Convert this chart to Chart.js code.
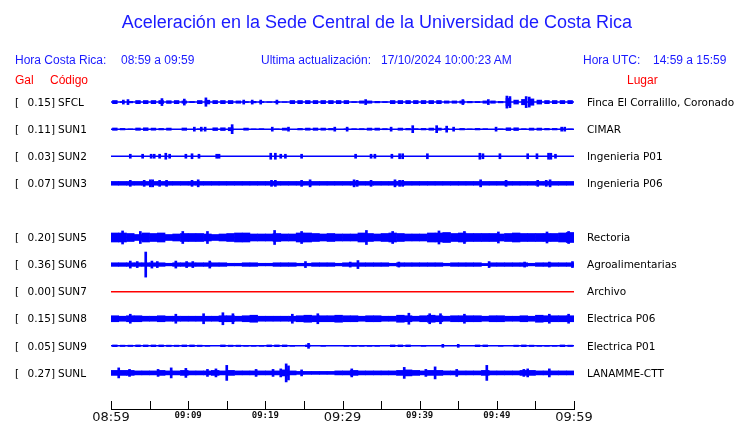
<!DOCTYPE html>
<html>
<head>
<meta charset="utf-8">
<script src="https://cdn.jsdelivr.net/npm/chart.js@4/dist/chart.umd.min.js"></script>
<style>
body { margin: 0; background: #fff; }
#wrap { position: relative; width: 740px; height: 423px; overflow: hidden; font-family: "Liberation Sans", Arial, sans-serif; }
#wrap canvas { position: absolute; left: 0; top: 0; }
.t { position: absolute; white-space: pre; line-height: 1; }
.blue { color: #1a1aff; }
.red { color: #ff0000; }
</style>
</head>
<body>
<div id="wrap">
  <canvas id="sismo" width="740" height="423"></canvas>
  <div class="t blue" style="left:0;width:754px;text-align:center;top:13px;font-size:18px">Aceleración en la Sede Central de la Universidad de Costa Rica</div>
  <div class="t blue" style="left:15px;top:54px;font-size:12px">Hora Costa Rica:</div>
  <div class="t blue" style="left:121px;top:54px;font-size:12px">08:59 a 09:59</div>
  <div class="t blue" style="left:261px;top:54px;font-size:12px">Ultima actualización:</div>
  <div class="t blue" style="left:381px;top:54px;font-size:12px">17/10/2024 10:00:23 AM</div>
  <div class="t blue" style="left:583px;top:54px;font-size:12px">Hora UTC:</div>
  <div class="t blue" style="left:653px;top:54px;font-size:12px">14:59 a 15:59</div>
  <div class="t red" style="left:15px;top:74px;font-size:12px">Gal</div>
  <div class="t red" style="left:50px;top:74px;font-size:12px">Código</div>
  <div class="t red" style="left:627px;top:74px;font-size:12px">Lugar</div>
</div>
<script>
// channel slots (the empty slot is the unused channel line)
const CODES = ["SFCL", "SUN1", "SUN2", "SUN3", "", "SUN5", "SUN6", "SUN7", "SUN8", "SUN9", "SUNL"];
const GAL = [0.15, 0.11, 0.03, 0.07, null, 0.20, 0.36, 0.00, 0.15, 0.05, 0.27];
const PLACES = ["Finca El Corralillo, Coronado", "CIMAR", "Ingenieria P01", "Ingenieria P06", "",
  "Rectoria", "Agroalimentarias", "Archivo", "Electrica P06", "Electrica P01", "LANAMME-CTT"];
const TIME_LABELS = ["08:59", "09:09", "09:19", "09:29", "09:39", "09:49", "09:59"];

// envelope (half amplitude) per minute, minutes 0..59
const ENV_SFCL = [1.9,0.8,1.1,1.9,1.9,1.9,1.9,1.7,1.9,1.5, 0.9,1.9,2.2,1.9,1.9,1.9,1.5,0.8,1.1,0.8,
  0.6,0.8,0.6,1.9,1.9,1.9,1.9,1.9,1.9,1.9, 1.9,0.8,1.5,1.5,1.1,0.8,1.9,1.9,1.9,1.9,
  1.9,1.9,1.9,1.5,1.5,1.5,1.1,0.9,1.5,1.5, 1.1,4,2.3,3,3.5,2.3,1.9,1.9,1.9,1.9];
const ENV_SUN1 = [1.5,1.1,0.6,1.5,1.7,1.4,1.1,1.4,0,1.5, 0,0.6,0,1.7,1.7,1.9,0,1.4,0.6,0.8,
  0,0.6,1.4,0,1.1,1.4,1.5,1.4,1.1,0, 0.6,0.8,0.9,1.4,1.4,0.9,0,1.4,1.1,0.8,
  1.1,1.4,1.4,0.8,0,1.1,0.6,1.1,0.8,0, 0.6,1.7,1.7,0.8,1.4,1.4,1.1,1.1,0.6,0.6];
const ENV_SUN3 = [1.9,1.9,1.9,1.9,1.9,1.9,1.9,1.9,1.9,1.9, 1.9,1.9,1.9,1.9,1.9,1.9,1.9,1.9,1.9,1.9,
  1.9,1.9,1.9,1.9,1.9,1.9,1.9,1.9,1.9,1.9, 1.9,1.9,1.9,1.9,1.9,1.9,1.9,1.9,1.9,1.9,
  1.9,1.9,1.9,1.9,1.9,1.9,1.9,1.9,1.9,1.9, 1.9,1.9,1.9,1.9,1.9,1.9,1.9,1.9,1.9,1.9];
const ENV_SUN5 = [4.5,4.5,4,3,4.5,4,4.5,3,3.5,4, 4,4,3.5,3,3.5,4,4.5,4.5,3.5,3.5,
  3.5,4,3.5,3.5,4.5,4.5,4,3.5,4,3.5, 3.5,3.5,4.5,4,3.5,4,4.5,4,3.5,3.5,
  3.5,4.5,4.5,5,4,4.5,4,4,4,4, 3.5,4,4.5,4,4,4,4,4,4.5,5];
const ENV_SUN6 = [1.8,1.8,1.8,1.8,1.8,1.8,1.8,1.3,1.8,1.8, 1.8,1.8,1.8,1.8,1.8,1.3,1.3,1.8,1.8,1.3,
  1.3,1.8,1.8,1.8,1.3,1.3,1.8,1.8,1.8,1.3, 1.8,1.8,1.8,1.8,1.8,1.8,1.3,1.8,1.8,1.8,
  1.8,1.8,1.8,1.3,1.8,1.8,1.8,1.8,1.1,1.8, 1.8,1.8,1.8,1.8,1.3,1.8,1.8,1.8,1.8,1.8];
const ENV_SUN8 = [3,2.5,3,3,2.5,2.5,3,2.5,2.5,2.5, 2.5,2.5,2.5,2.5,3,3,2.5,3,3.5,2.5,
  2.5,2.5,2.5,2.5,3,3.5,3,3,3,3.5, 3,3,2.5,3,3,2.5,2.5,3.5,3,2.5,
  3,3.5,3,2.5,3,3,3,3,2.5,3, 3,2.5,2.5,3,2.5,3.5,3,3,3,3];
const ENV_SUN9 = [1.2,1,1,1.2,1.2,1.2,1.2,1,1,1.2, 1.2,1,0.8,0,1.2,1,1,0.8,0.8,0.8,
  1.2,1.2,1.2,0.8,0,1.2,0,0.8,0,0, 0.8,0.8,0.8,0.8,0.8,0,1.2,1.2,1.2,0,
  0.8,0,0,0,0,0,0,1.2,1.2,0, 0.8,0,1,1.2,1,0.8,0.8,0.8,1.2,1];
const ENV_SUNL = [2.5,2.5,2.5,2,2,2,2.5,2,2,2.5, 2,2,2,2.5,2,2.5,2,2,2,2,
  2,2,3,2,1.5,1.5,1.5,1.5,1.5,2, 2,2.5,2,2,2,2,2,2.5,3,2.5,
  2,2.5,2.5,2,2,2,2,2,2.5,2, 2,2,2,2.5,2.5,2,2,2,2,2];

// isolated spikes: [minute, half amplitude]
const SPK_SFCL = [[1.6,2],[2.2,2.5],[6.6,3.5],[9.5,3],[12.3,4.2],[17.2,2],[18.3,2],[19.4,2],[21.5,2],
  [33,2.5],[45.6,2.5],[48.9,2.5],[51.3,6],[51.7,5.5],[53.8,5.5],[54.2,5]];
const SPK_SUN1 = [[10.8,2],[11.7,2],[12.2,2],[15.7,4.5],[20.9,2],[23,2],[29,2],[30.6,2],[36.3,2],
  [39.1,3.5],[42.2,3.5],[43.5,3],[44.4,2],[49.9,2],[58.4,2],[58.8,2]];
const SPK_SUN2 = [[2.5,2],[4.1,2],[5.2,2],[5.6,2],[6.3,2],[7.1,3],[7.6,2],[9.7,2],[10.5,2.5],[11.4,2],
  [13.7,2],[14,2],[20.7,3],[21.3,3],[22,2],[22.6,2],[24.7,2],[31.7,2],[33.7,2],[34.2,2],[36.4,2],
  [37.4,2.5],[37.8,2.5],[41,2.5],[47.8,3],[48.2,2.5],[50.4,2.5],[54,2.5],[55.2,2.5],[56.7,3],[57,3],[57.6,2]];
const SPK_SUN3 = [[2.5,3],[4.3,3],[5.1,3.5],[5.4,3.5],[6.3,3],[7.2,3],[10.5,3],[11.3,3.5],[20.8,3],[21.3,3],
  [24.7,3],[25.8,3.5],[31.5,3.5],[31.9,3],[33.7,3],[36.8,3.5],[37.4,3],[37.8,3],[47.9,3.5],[51.2,3],
  [55.3,3],[56.4,3],[56.9,3.5]];
const SPK_SUN5 = [[1.5,6.5],[3.8,6],[9.3,6],[12.5,6],[21.2,7],[24.7,6],[33.1,7],[36.5,6],[42.5,6.5],
  [45.8,6],[50.2,5.5],[56.5,5.5],[59.3,6]];
const SPK_SUN6 = [[2.5,3.5],[3.4,3],[4.5,12.5],[5.3,3.5],[6,3],[8.4,3.5],[9.8,3],[10.6,3],[12.8,3.5],
  [25.2,3],[31,2.5],[32,4],[37.3,2.5],[49,3],[53.6,2.5],[56.8,2.5],[59.8,3]];
const SPK_SUN8 = [[2.5,4.5],[8.4,4.5],[12,5],[14.5,6],[15.8,5],[23.5,4.5],[26.8,5],[38.6,5.5],[41.3,5],
  [42.7,5],[45.8,4.5],[56.8,4.5],[59.3,4.5]];
const SPK_SUN9 = [[25.6,2.5],[43,1.5],[45,1.5]];
const SPK_SUNL = [[1,5],[2.4,3.5],[6.1,3.5],[7.8,5],[9.7,4.5],[12.5,3.5],[13.6,4],[15,7.5],[18.8,3.5],
  [21,3.5],[22,4],[22.7,9],[23,7],[24.7,3],[31.2,4],[38,5.5],[40.8,3.5],[42,6],[44.8,3.5],[48.7,7.5],
  [53.5,3.5],[54,4],[56.8,4]];

const ENVELOPES = [ENV_SFCL, ENV_SUN1, null, ENV_SUN3, null, ENV_SUN5, ENV_SUN6, null, ENV_SUN8, ENV_SUN9, ENV_SUNL];
const SPIKES = [SPK_SFCL, SPK_SUN1, SPK_SUN2, SPK_SUN3, null, SPK_SUN5, SPK_SUN6, null, SPK_SUN8, SPK_SUN9, SPK_SUNL];
const SPARSE = ["SFCL", "SUN1", "SUN9"]; // channels drawn as broken blocks

var G = 1 / 27; // amplitude unit -> fraction of a row

var datasets = [];
CODES.forEach(function (code, i) {
  if (!code) return;
  var col = GAL[i] === 0 ? "#ff0000" : "#0000ff";
  datasets.push({
    type: "line", xAxisID: "x",
    data: [{ x: 0, y: i }, { x: 60, y: i }],
    borderColor: col, borderWidth: 1.5, pointRadius: 0
  });
  if (ENVELOPES[i]) {
    datasets.push({
      type: "bar", xAxisID: "x",
      data: ENVELOPES[i].map(function (a, m) { return { x: m + 0.5, y: [i - a * G, i + a * G] }; }),
      backgroundColor: col, borderWidth: 0,
      barPercentage: SPARSE.indexOf(code) >= 0 ? 0.7 : 1, categoryPercentage: 1, grouped: false
    });
  }
  if (SPIKES[i]) {
    datasets.push({
      type: "bar", xAxisID: "xs",
      data: SPIKES[i].map(function (s) { return { x: s[0], y: [i - s[1] * G, i + s[1] * G] }; }),
      backgroundColor: col, borderWidth: 0,
      barThickness: 2, grouped: false
    });
  }
});

var labelsPlugin = {
  id: "stationLabels",
  afterDraw: function (chart) {
    var ctx = chart.ctx, y = chart.scales.y, x = chart.scales.x;
    ctx.save();
    ctx.font = '10.5px "DejaVu Sans"';
    ctx.fillStyle = "#000";
    ctx.textBaseline = "middle";
    CODES.forEach(function (code, i) {
      if (!code) return;
      var py = y.getPixelForValue(i) + 1;
      ctx.textAlign = "left";
      ctx.fillText("[", 15, py);
      ctx.textAlign = "right";
      ctx.fillText(GAL[i].toFixed(2) + "]", 55, py);
      ctx.textAlign = "left";
      ctx.fillText(code, 58, py);
      ctx.fillText(PLACES[i], x.right + 13, py);
    });
    // tick marks pointing up from the time axis
    ctx.strokeStyle = "#000";
    ctx.lineWidth = 1;
    ctx.beginPath();
    x.ticks.forEach(function (t) {
      var px = Math.round(x.getPixelForValue(t.value)) + 0.5;
      ctx.moveTo(px, x.top);
      ctx.lineTo(px, x.top - 8);
    });
    ctx.stroke();
    ctx.restore();
  }
};

new Chart(document.getElementById("sismo"), {
  type: "bar",
  data: { datasets: datasets },
  options: {
    responsive: false,
    animation: false,
    devicePixelRatio: 1,
    layout: { padding: { left: 111, right: 166, top: 75, bottom: 0 } },
    plugins: { legend: { display: false }, tooltip: { enabled: false } },
    scales: {
      x: {
        type: "linear", min: 0, max: 60, offset: false,
        grid: { display: false, drawTicks: false },
        border: { display: true, color: "#000", width: 1 },
        ticks: {
          stepSize: 5, autoSkip: false, maxRotation: 0, padding: 1, color: "#111",
          callback: function (v) { return v % 10 === 0 ? TIME_LABELS[v / 10] : ""; },
          font: function (c) {
            if (c.tick && c.tick.value % 30 === 0) return { family: "DejaVu Sans", size: 13 };
            return { family: "DejaVu Sans Mono", size: 9, weight: "bold" };
          }
        },
        afterFit: function (s) { s.height = 14; }
      },
      xs: { type: "linear", min: 0, max: 60, offset: false, display: false },
      y: { type: "linear", min: -1, max: 11.333, reverse: true, display: false }
    }
  },
  plugins: [labelsPlugin]
});
</script>
</body>
</html>
